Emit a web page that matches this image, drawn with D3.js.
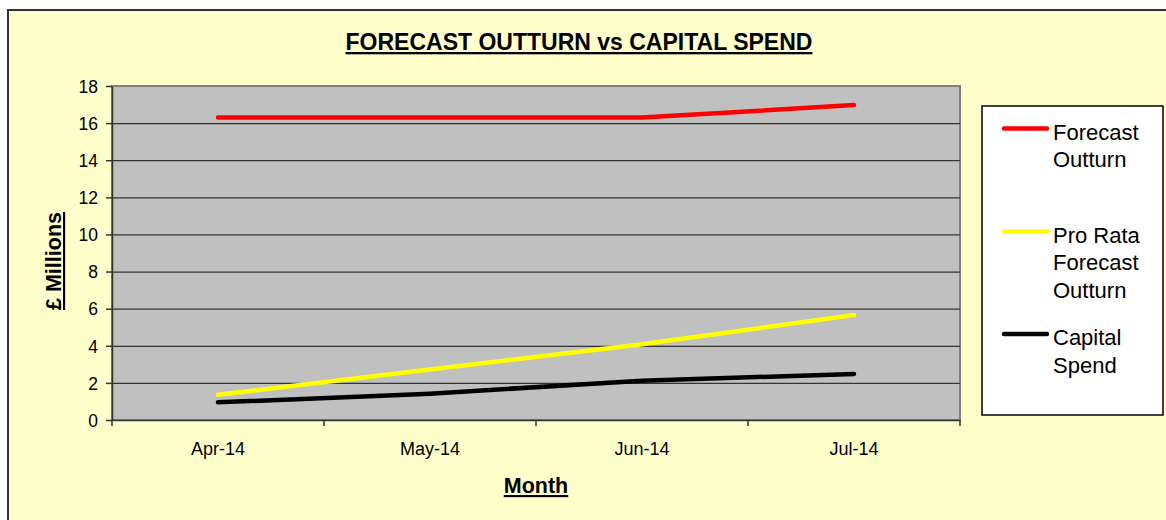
<!DOCTYPE html>
<html>
<head>
<meta charset="utf-8">
<script src="https://d3js.org/d3.v7.min.js"></script>
<style>
  body { margin: 0; background: #fff; }
  text { font-family: Arial, "Liberation Sans", sans-serif; fill: #000; }
  .gridlines line { stroke: #333; stroke-width: 1.2; }
  .gridlines .domain { stroke: none; }
  .axis .domain, .axis line { stroke: #333; stroke-width: 1.5; }
</style>
</head>
<body>
<svg id="chart" width="1166" height="520"></svg>
<script>
const months = ['Apr-14', 'May-14', 'Jun-14', 'Jul-14'];
const forecastOutturn = [16.3, 16.3, 16.3, 16.97];
const proRataForecast = [1.36, 2.72, 4.08, 5.66];
const capitalSpend = [0.95, 1.42, 2.12, 2.48];
const yTicks = [0, 2, 4, 6, 8, 10, 12, 14, 16, 18];

const series = [
  {name: ['Forecast', 'Outturn'], values: forecastOutturn, color: '#ff0000'},
  {name: ['Pro Rata', 'Forecast', 'Outturn'], values: proRataForecast, color: '#ffff00'},
  {name: ['Capital', 'Spend'], values: capitalSpend, color: '#000000'}
];

const svg = d3.select('svg#chart');
const margins = {top: 86, left: 112};
const chartWidth = 848;
const chartHeight = 334;

// outer chart area
svg.append('rect')
  .attr('x', 8).attr('y', 10)
  .attr('width', 1170).attr('height', 530)
  .attr('fill', '#ffffcc')
  .attr('stroke', '#333').attr('stroke-width', 2);

svg.append('text')
  .attr('x', 579).attr('y', 50)
  .attr('text-anchor', 'middle')
  .style('font-size', '23px').style('font-weight', 'bold')
  .style('text-decoration', 'underline')
  .text('FORECAST OUTTURN vs CAPITAL SPEND');

const xScale = d3.scaleBand().domain(months).range([0, chartWidth]);
const yScale = d3.scaleLinear().domain([0, 18]).range([chartHeight, 0]);

let chartArea = svg.append('g')
  .attr('transform', `translate(${margins.left},${margins.top})`);

chartArea.append('rect')
  .attr('width', chartWidth).attr('height', chartHeight)
  .attr('fill', '#c0c0c0')
  .attr('stroke', '#808080').attr('stroke-width', 2);

let gridlines = d3.axisLeft(yScale).tickValues(yTicks.slice(1, -1))
  .tickSize(-chartWidth).tickFormat('');
chartArea.append('g').attr('class', 'gridlines').call(gridlines);

let leftAxis = d3.axisLeft(yScale).tickValues(yTicks).tickSize(6).tickSizeOuter(0).tickPadding(8);
let gLeft = chartArea.append('g').attr('class', 'axis').call(leftAxis);
gLeft.selectAll('text').style('font-size', '17.5px').attr('dy', '0.36em');

// category ticks sit on the band boundaries
let bottomAxis = d3.axisBottom(xScale).tickSize(0).tickPadding(22);
let gBottom = chartArea.append('g').attr('class', 'axis')
  .attr('transform', `translate(0,${chartHeight})`).call(bottomAxis);
gBottom.selectAll('text').style('font-size', '18px');
gBottom.selectAll('.sep')
  .data(months.concat(['end']))
  .enter().append('line')
  .attr('x1', (d, i) => i * xScale.bandwidth())
  .attr('x2', (d, i) => i * xScale.bandwidth())
  .attr('y1', 0).attr('y2', 6);

const line = d3.line()
  .x((d, i) => xScale(months[i]) + xScale.bandwidth() / 2)
  .y(d => yScale(d));

series.slice().reverse().forEach(s => {
  chartArea.append('path')
    .attr('d', line(s.values))
    .attr('fill', 'none')
    .attr('stroke', s.color)
    .attr('stroke-width', 4.5)
    .attr('stroke-linecap', 'round')
    .attr('stroke-linejoin', 'round');
});

svg.append('text')
  .attr('x', 536).attr('y', 493)
  .attr('text-anchor', 'middle')
  .style('font-size', '21.5px').style('font-weight', 'bold')
  .style('text-decoration', 'underline')
  .text('Month');

svg.append('text')
  .attr('transform', 'translate(61,261) rotate(-90)')
  .attr('text-anchor', 'middle')
  .style('font-size', '21.5px').style('font-weight', 'bold')
  .style('text-decoration', 'underline')
  .text('£ Millions');

// legend
let legend = svg.append('g');
legend.append('rect')
  .attr('x', 982).attr('y', 106)
  .attr('width', 181).attr('height', 309)
  .attr('fill', '#fff').attr('stroke', '#000').attr('stroke-width', 1.5);

const legendY = [128.5, 231.5, 334];
series.forEach((s, i) => {
  legend.append('line')
    .attr('x1', 1004).attr('x2', 1047)
    .attr('y1', legendY[i]).attr('y2', legendY[i])
    .attr('stroke', s.color).attr('stroke-width', 4.5)
    .attr('stroke-linecap', 'round');
  let t = legend.append('text')
    .attr('x', 1053).attr('y', legendY[i] + 11)
    .style('font-size', '22px');
  s.name.forEach((w, j) => {
    t.append('tspan').attr('x', 1053).attr('dy', j === 0 ? 0 : 27.8).text(w);
  });
});
</script>
</body>
</html>
